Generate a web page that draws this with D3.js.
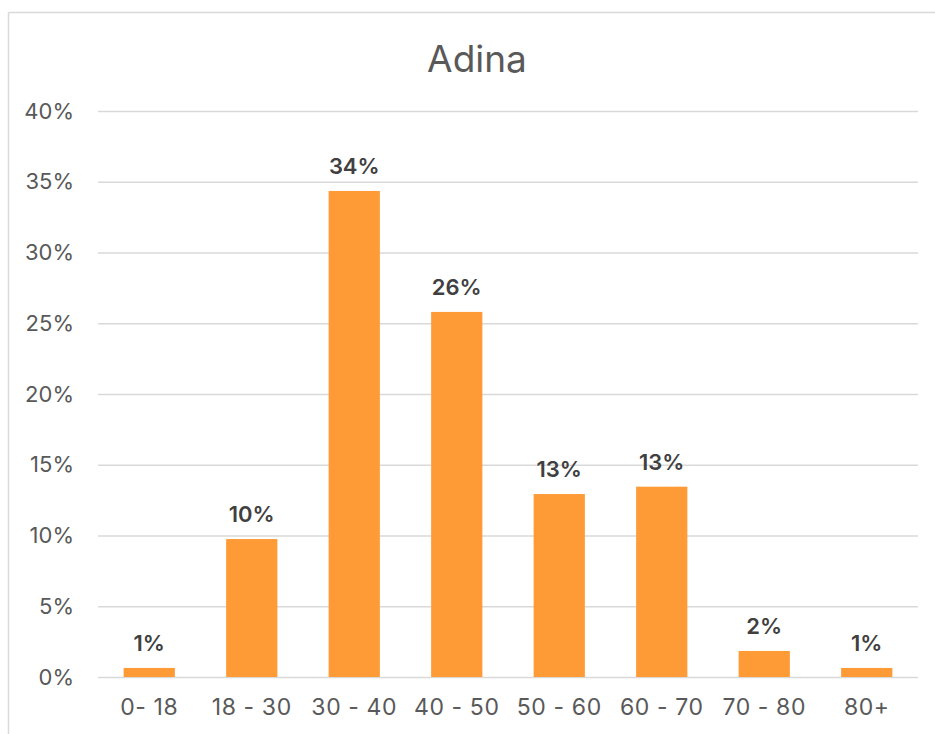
<!DOCTYPE html>
<html>
<head>
<meta charset="utf-8">
<script src="https://cdn.jsdelivr.net/npm/d3@7"></script>
<style>
  body { margin: 0; background: #fff; }
  text { font-family: Inter, "Noto Sans", sans-serif; }
</style>
</head>
<body>
<div id="chart"></div>
<script>
// data (percent)
var categories = ["0- 18", "18 - 30", "30 - 40", "40 - 50", "50 - 60", "60 - 70", "70 - 80", "80+"];
var values = [0.64, 9.75, 34.35, 25.8, 12.93, 13.45, 1.84, 0.64];
var yTicks = [0, 5, 10, 15, 20, 25, 30, 35, 40];
var title = "Adina";

var w = 935, h = 734;
var marges = {left: 98, right: 17, top: 111, bottom: 57};
var graf_w = w - marges.left - marges.right;
var graf_h = h - marges.top - marges.bottom;

var svg = d3.select("#chart").append("svg")
    .attr("width", w)
    .attr("height", h);

// chart frame (only top and left edges show)
svg.append("line")
    .attr("x1", 8.5).attr("x2", w).attr("y1", 12.5).attr("y2", 12.5)
    .attr("stroke", "#d9d9d9").attr("stroke-width", 1.5);
svg.append("line")
    .attr("x1", 8.5).attr("x2", 8.5).attr("y1", 12.5).attr("y2", h)
    .attr("stroke", "#d9d9d9").attr("stroke-width", 1.5);

// title
svg.append("text")
    .attr("x", 477)
    .attr("y", 72)
    .attr("text-anchor", "middle")
    .attr("font-size", 37)
    .attr("fill", "#595959")
    .text(title);

var g = svg.append("g")
    .attr("transform", "translate(" + marges.left + "," + marges.top + ")");

// <-- X AXIS -------------
var x = d3.scaleBand()
    .domain(categories)
    .range([0, graf_w])
    .paddingInner(0.5)
    .paddingOuter(0.25);
// -- X AXIS ------------->

// <-- Y AXIS -------------
var y = d3.scaleLinear()
    .domain([0, 40])
    .range([graf_h, 0]);

var yaxis = g.append("g")
    .attr("class", "yaxis")
    .call(d3.axisLeft(y)
        .tickValues(yTicks)
        .tickSize(-graf_w)
        .tickPadding(24)
        .tickFormat(function(d) { return d + "%"; }));
yaxis.select(".domain").remove();
yaxis.selectAll(".tick line")
    .attr("stroke", "#d9d9d9")
    .attr("stroke-width", 1.5);
yaxis.selectAll(".tick text")
    .attr("font-size", 22)
    .attr("fill", "#595959")
    .attr("font-family", "Inter, sans-serif");
// -- Y AXIS ------------->

// bars
g.append("g")
    .selectAll("rect")
    .data(values)
    .enter().append("rect")
    .attr("x", function(d, i) { return x(categories[i]); })
    .attr("y", function(d) { return y(d); })
    .attr("width", x.bandwidth())
    .attr("height", function(d) { return graf_h - y(d); })
    .attr("fill", "#ff9b37");

// data labels
g.append("g")
    .selectAll("text")
    .data(values)
    .enter().append("text")
    .attr("x", function(d, i) { return x(categories[i]) + x.bandwidth() / 2; })
    .attr("y", function(d) { return y(d) - 17; })
    .attr("text-anchor", "middle")
    .attr("font-size", 22)
    .attr("font-weight", 600)
    .attr("fill", "#404040")
    .text(function(d) { return Math.round(d) + "%"; });

// category labels
var xaxis = g.append("g")
    .attr("transform", "translate(0," + graf_h + ")")
    .call(d3.axisBottom(x).tickSize(0).tickPadding(22));
xaxis.select(".domain").remove();
xaxis.selectAll(".tick text")
    .attr("font-size", 23)
    .attr("letter-spacing", 0.6)
    .attr("fill", "#595959")
    .attr("font-family", "Inter, sans-serif");
</script>
</body>
</html>
